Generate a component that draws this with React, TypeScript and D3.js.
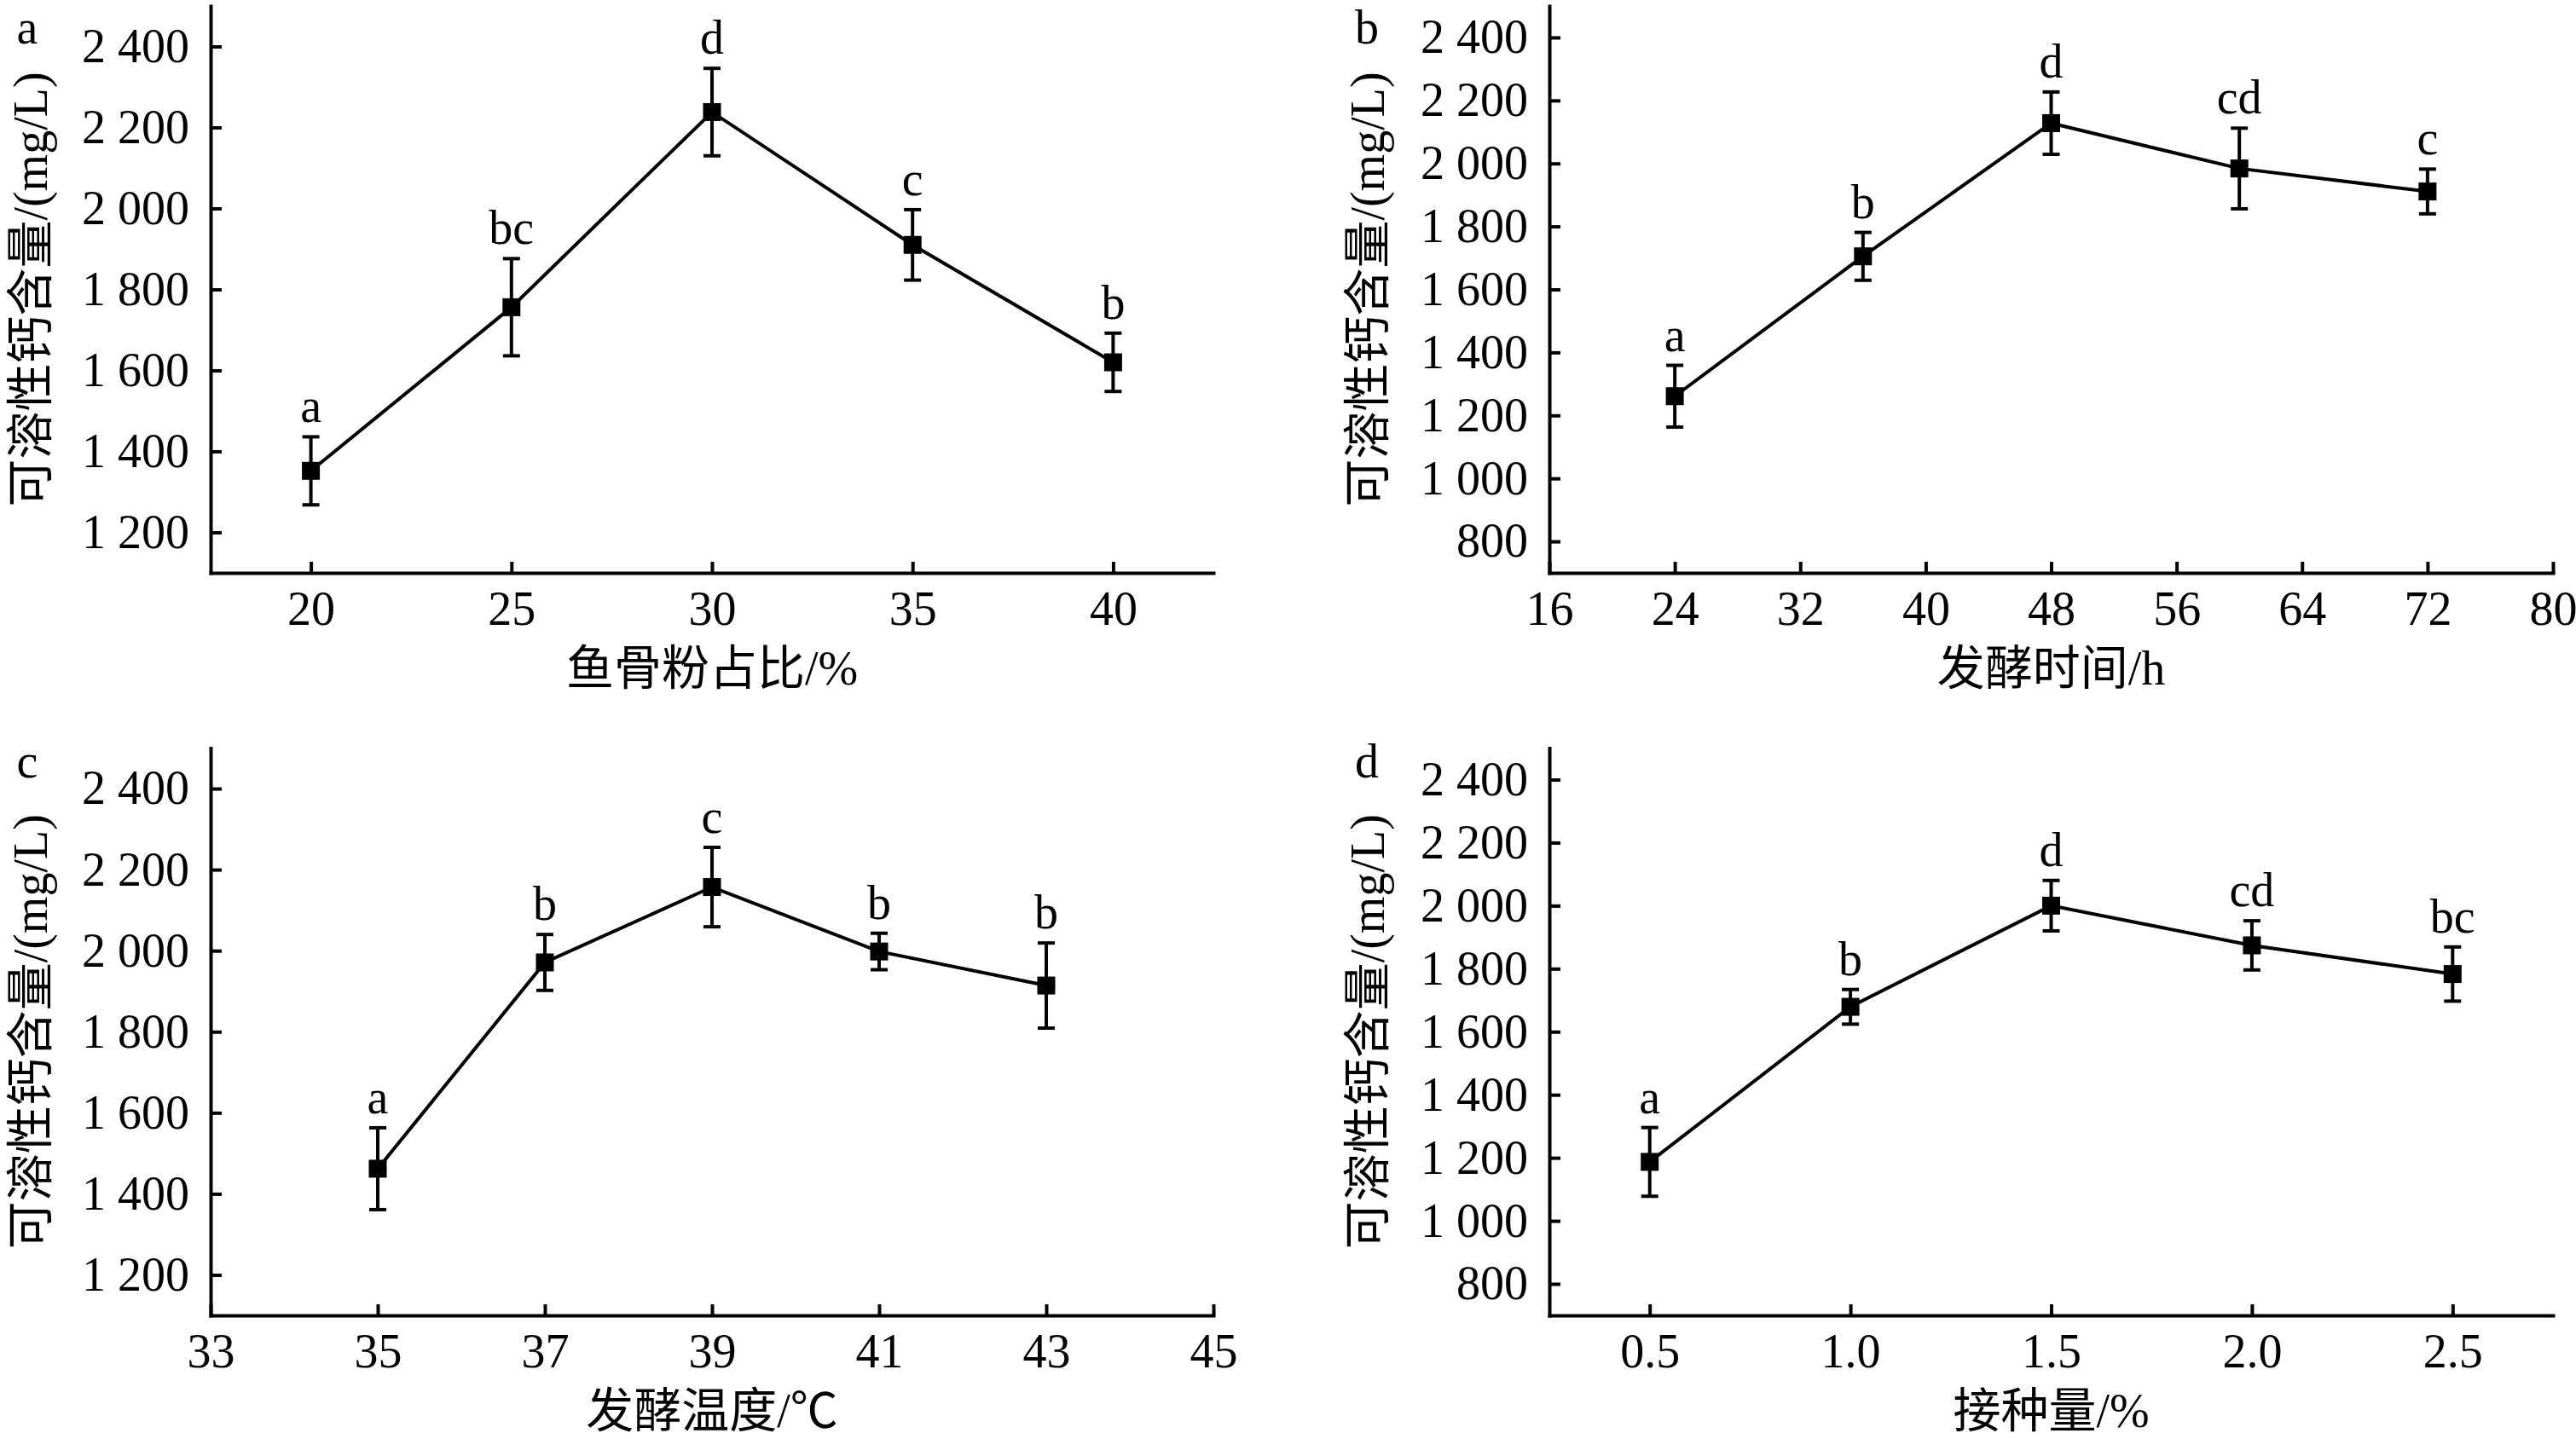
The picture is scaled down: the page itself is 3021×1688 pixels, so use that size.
import { useEffect, useRef } from "react";
import * as d3 from "d3";

const W = 3021;
const H = 1688;

// ── Data ──────────────────────────────────────────────────────────────────────
// a: fish bone powder ratio (%)
const boneRatio = [20, 25, 30, 35, 40];
const boneMean = [1352, 1756, 2238, 1910, 1620];
const boneErr = [84, 120, 108, 87, 72];
const boneSig = ["a", "bc", "d", "c", "b"];

// b: fermentation time (h)
const fermTime = [24, 36, 48, 60, 72];
const timeMean = [1261, 1705, 2128, 1984, 1911];
const timeErr = [98, 76, 99, 128, 71];
const timeSig = ["a", "b", "d", "cd", "c"];

// c: fermentation temperature (℃)
const fermTemp = [35, 37, 39, 41, 43];
const tempMean = [1462, 1971, 2157, 1998, 1914];
const tempErr = [101, 69, 98, 45, 105];
const tempSig = ["a", "b", "c", "b", "b"];

// d: inoculum amount (%)
const inoculum = [0.5, 1.0, 1.5, 2.0, 2.5];
const inocMean = [1187, 1679, 2000, 1874, 1783];
const inocErr = [109, 55, 80, 78, 86];
const inocSig = ["a", "b", "d", "cd", "bc"];

// tick values
const xTicksA = [20, 25, 30, 35, 40];
const xTicksB = [16, 24, 32, 40, 48, 56, 64, 72, 80];
const xTicksC = [33, 35, 37, 39, 41, 43, 45];
const xTicksD = [0.5, 1.0, 1.5, 2.0, 2.5];
const yTicksAC = [1200, 1400, 1600, 1800, 2000, 2200, 2400];
const yTicksBD = [800, 1000, 1200, 1400, 1600, 1800, 2000, 2200, 2400];

const yTitle = "可溶性钙含量/(mg/L)";

const FONT = "'Liberation Serif', 'Times New Roman', 'Noto Sans CJK SC', serif";
const FS = 56;

const fmtY = (v: number) =>
  v >= 1000 ? `${Math.floor(v / 1000)} ${String(v % 1000).padStart(3, "0")}` : `${v}`;

interface Panel {
  tag: string;
  xs: number[];
  mean: number[];
  err: number[];
  sig: string[];
  xDomain: [number, number];
  yDomain: [number, number];
  xTicks: number[];
  yTicks: number[];
  xFmt: (v: number) => string;
  xTitle: string;
  left: number;
  right: number;
  top: number;
  bottom: number;
  tagX: number;
  titleX: number;
}

const colL = { left: 247, right: 1423, tagX: 32, titleX: 36 };
const colR = { left: 1817, right: 2994, tagX: 1603, titleX: 1604 };
const rowT = { top: 7, bottom: 672 };
const rowB = { top: 877.5, bottom: 1543 };

const panels: Panel[] = [
  {
    tag: "a", xs: boneRatio, mean: boneMean, err: boneErr, sig: boneSig,
    xDomain: [17.5, 42.5], yDomain: [1100, 2500], xTicks: xTicksA, yTicks: yTicksAC,
    xFmt: (v) => `${v}`, xTitle: "鱼骨粉占比/%", ...colL, ...rowT,
  },
  {
    tag: "b", xs: fermTime, mean: timeMean, err: timeErr, sig: timeSig,
    xDomain: [16, 80], yDomain: [700, 2500], xTicks: xTicksB, yTicks: yTicksBD,
    xFmt: (v) => `${v}`, xTitle: "发酵时间/h", ...colR, ...rowT,
  },
  {
    tag: "c", xs: fermTemp, mean: tempMean, err: tempErr, sig: tempSig,
    xDomain: [33, 45], yDomain: [1100, 2500], xTicks: xTicksC, yTicks: yTicksAC,
    xFmt: (v) => `${v}`, xTitle: "发酵温度/℃", ...colL, ...rowB,
  },
  {
    tag: "d", xs: inoculum, mean: inocMean, err: inocErr, sig: inocSig,
    xDomain: [0.25, 2.75], yDomain: [700, 2500], xTicks: xTicksD, yTicks: yTicksBD,
    xFmt: (v) => v.toFixed(1), xTitle: "接种量/%", ...colR, ...rowB,
  },
];

// ── Component ─────────────────────────────────────────────────────────────────
export default function App() {
  const svgRef = useRef<SVGSVGElement>(null);

  useEffect(() => {
    if (!svgRef.current) return;
    const svg = d3.select(svgRef.current);
    svg.selectAll("*").remove();

    svg.append("rect").attr("width", W).attr("height", H).attr("fill", "#fff");

    panels.forEach((p) => {
      const g = svg.append("g").attr("font-family", FONT);
      const x = d3.scaleLinear().domain(p.xDomain).range([p.left, p.right]);
      const y = d3.scaleLinear().domain(p.yDomain).range([p.bottom, p.top]);

      // ── Y axis ──
      const ya = g
        .append("g")
        .attr("transform", `translate(${p.left},0)`)
        .call(
          d3.axisLeft(y).tickValues(p.yTicks).tickSize(-13).tickSizeOuter(0)
            .tickPadding(25).tickFormat((d) => fmtY(d as number))
        )
        .attr("font-family", FONT);
      ya.selectAll("text").attr("font-family", FONT).attr("font-size", FS).attr("fill", "#000");
      ya.selectAll(".tick line").attr("stroke", "#000").attr("stroke-width", 4);
      ya.select(".domain").attr("stroke", "#000").attr("stroke-width", 4).attr("stroke-linecap", "square");

      // ── X axis ──
      const xa = g
        .append("g")
        .attr("transform", `translate(0,${p.bottom})`)
        .call(
          d3.axisBottom(x).tickValues(p.xTicks).tickSize(-13).tickSizeOuter(0)
            .tickPadding(21).tickFormat((d) => p.xFmt(d as number))
        )
        .attr("font-family", FONT);
      xa.selectAll("text").attr("font-family", FONT).attr("font-size", FS).attr("fill", "#000");
      xa.selectAll(".tick line").attr("stroke", "#000").attr("stroke-width", 4);
      xa.select(".domain").attr("stroke", "#000").attr("stroke-width", 4).attr("stroke-linecap", "square");

      // ── Titles ──
      g.append("text")
        .attr("x", (p.left + p.right) / 2)
        .attr("y", p.bottom + 112)
        .attr("text-anchor", "middle")
        .attr("dominant-baseline", "central")
        .attr("font-size", FS)
        .text(p.xTitle);

      g.append("text")
        .attr("transform", `translate(${p.titleX},${(p.top + p.bottom) / 2}) rotate(-90)`)
        .attr("text-anchor", "middle")
        .attr("dominant-baseline", "central")
        .attr("font-size", FS)
        .text(yTitle);

      // panel letter, kept fully inside the page
      g.append("text")
        .attr("x", p.tagX)
        .attr("y", Math.max(p.top + 34, 51))
        .attr("text-anchor", "middle")
        .attr("font-size", FS)
        .text(p.tag);

      // ── Series ──
      type Pt = { x: number; m: number; e: number; s: string };
      const pts: Pt[] = p.xs.map((xv, i) => ({ x: xv, m: p.mean[i], e: p.err[i], s: p.sig[i] }));

      g.append("path")
        .datum(pts)
        .attr("fill", "none")
        .attr("stroke", "#000")
        .attr("stroke-width", 4)
        .attr("d", d3.line<Pt>().x((d) => x(d.x)).y((d) => y(d.m)));

      const bars = g.selectAll<SVGGElement, Pt>(".err").data(pts).enter().append("g").attr("class", "err");
      bars.append("line")
        .attr("x1", (d) => x(d.x)).attr("x2", (d) => x(d.x))
        .attr("y1", (d) => y(d.m - d.e)).attr("y2", (d) => y(d.m + d.e))
        .attr("stroke", "#000").attr("stroke-width", 4);
      [1, -1].forEach((sgn) => {
        bars.append("line")
          .attr("x1", (d) => x(d.x) - 10).attr("x2", (d) => x(d.x) + 10)
          .attr("y1", (d) => y(d.m + sgn * d.e)).attr("y2", (d) => y(d.m + sgn * d.e))
          .attr("stroke", "#000").attr("stroke-width", 4);
      });

      g.selectAll<SVGRectElement, Pt>(".mark").data(pts).enter().append("rect")
        .attr("class", "mark")
        .attr("x", (d) => x(d.x) - 10.5).attr("y", (d) => y(d.m) - 10.5)
        .attr("width", 21).attr("height", 21)
        .attr("fill", "#000");

      g.selectAll<SVGTextElement, Pt>(".sig").data(pts).enter().append("text")
        .attr("class", "sig")
        .attr("x", (d) => x(d.x))
        .attr("y", (d) => y(d.m + d.e) - 17)
        .attr("text-anchor", "middle")
        .attr("font-size", FS)
        .text((d) => d.s);
    });
  }, []);

  return (
    <svg
      ref={svgRef}
      width={W}
      height={H}
      viewBox={`0 0 ${W} ${H}`}
      style={{ position: "absolute", left: 0, top: 0, display: "block" }}
    />
  );
}
